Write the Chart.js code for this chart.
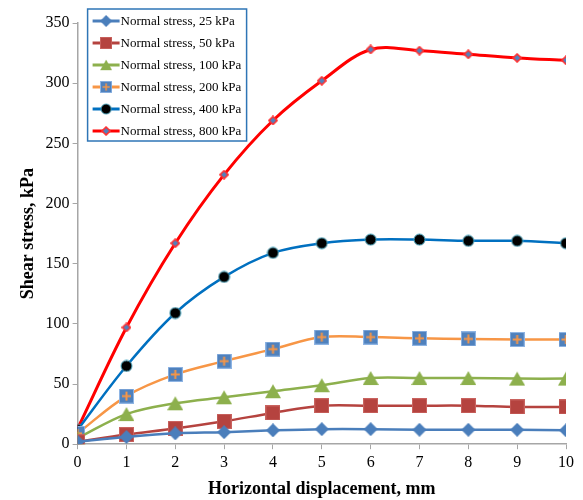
<!DOCTYPE html>
<html>
<head>
<meta charset="utf-8">
<script src="https://cdn.jsdelivr.net/npm/chart.js@4.4.0/dist/chart.umd.min.js"></script>
<style>
  body { margin: 0; background: #fff; }
  #wrap { width: 583px; height: 500px; }
</style>
</head>
<body>
<div id="wrap"><canvas id="shearChart"></canvas></div>
<script>
var displacement = [0, 1, 2, 3, 4, 5, 6, 7, 8, 9, 10];
var stress25  = [2, 6, 9, 10, 11.5, 12.5, 12.5, 12, 12, 12, 11.5];
var stress50  = [2, 8, 13, 19, 26, 32, 32, 32, 32, 31, 31];
var stress100 = [5, 25, 34, 39, 44, 49, 55, 55, 55, 54.5, 54.5];
var stress200 = [9, 40, 58, 69, 79, 89, 89, 88, 87.5, 87, 87];
var stress400 = [12, 65, 109, 139, 159, 167, 170, 170, 169, 169, 167];
var stress800 = [13, 97, 167, 224, 269, 302, 328, 327, 324, 321, 319];
var seriesNames = ["Normal stress, 25 kPa", "Normal stress, 50 kPa", "Normal stress, 100 kPa",
                   "Normal stress, 200 kPa", "Normal stress, 400 kPa", "Normal stress, 800 kPa"];

function makeMarker(size, draw){
    var c = document.createElement('canvas');
    c.width = size; c.height = size;
    draw(c.getContext('2d'), size);
    return c;
}

var diamondBlue = makeMarker(14, function(ctx, s){
    ctx.fillStyle = '#4A7EBB';
    ctx.beginPath();
    ctx.moveTo(s/2, 0); ctx.lineTo(s, s/2); ctx.lineTo(s/2, s); ctx.lineTo(0, s/2);
    ctx.closePath(); ctx.fill();
});
var squareRed = makeMarker(15, function(ctx, s){
    ctx.fillStyle = '#B5433F';
    ctx.fillRect(0, 0, s, s);
    ctx.strokeStyle = '#C9635F'; ctx.lineWidth = 1;
    ctx.strokeRect(0.5, 0.5, s-1, s-1);
});
var triangleGreen = makeMarker(16, function(ctx, s){
    ctx.fillStyle = '#8DB04D';
    ctx.beginPath();
    ctx.moveTo(s/2, 1); ctx.lineTo(s, s-1); ctx.lineTo(0, s-1);
    ctx.closePath(); ctx.fill();
});
var squareCross = makeMarker(15, function(ctx, s){
    ctx.fillStyle = '#4F81BD';
    ctx.fillRect(0, 0, s, s);
    ctx.strokeStyle = '#8EB4E3'; ctx.lineWidth = 1;
    ctx.strokeRect(0.5, 0.5, s-1, s-1);
    ctx.strokeStyle = '#F79646'; ctx.lineWidth = 2;
    ctx.beginPath();
    ctx.moveTo(s/2, 3); ctx.lineTo(s/2, s-3);
    ctx.moveTo(3, s/2); ctx.lineTo(s-3, s/2);
    ctx.stroke();
});
var circleBlack = makeMarker(13, function(ctx, s){
    ctx.fillStyle = '#000';
    ctx.strokeStyle = '#4BACC6'; ctx.lineWidth = 1;
    ctx.beginPath(); ctx.arc(s/2, s/2, s/2-1, 0, Math.PI*2); ctx.fill(); ctx.stroke();
});
var dotRed = makeMarker(10, function(ctx, s){
    ctx.fillStyle = '#4F81BD';
    ctx.strokeStyle = '#FF3030'; ctx.lineWidth = 1.6;
    ctx.beginPath();
    ctx.moveTo(s/2, 1); ctx.lineTo(s-1, s/2); ctx.lineTo(s/2, s-1); ctx.lineTo(1, s/2);
    ctx.closePath(); ctx.fill(); ctx.stroke();
});

function toPoints(values){
    return values.map(function(v, i){ return {x: displacement[i], y: v}; });
}

function makeDataset(label, values, color, marker){
    return {
        label: label,
        data: toPoints(values),
        borderColor: color,
        backgroundColor: color,
        borderWidth: 2.5,
        pointStyle: marker,
        tension: 0.35,
        fill: false
    };
}

var datasets = [
    makeDataset(seriesNames[0], stress25, '#4A7EBB', diamondBlue),
    makeDataset(seriesNames[1], stress50, '#B5433F', squareRed),
    makeDataset(seriesNames[2], stress100, '#8DB04D', triangleGreen),
    makeDataset(seriesNames[3], stress200, '#F79646', squareCross),
    makeDataset(seriesNames[4], stress400, '#0070C0', circleBlack),
    makeDataset(seriesNames[5], stress800, '#FF0000', dotRed)
];
datasets[5].borderWidth = 3;

// legend box drawn inside the plot, like the excel one
var boxLegend = {
    id: 'boxLegend',
    afterDraw: function(chart){
        var ctx = chart.ctx;
        var area = chart.chartArea;
        var x = area.left + 10, y = area.top - 14, w = 159, h = 132;
        ctx.save();
        ctx.fillStyle = '#fff';
        ctx.fillRect(x, y, w, h);
        ctx.strokeStyle = '#2E75B6';
        ctx.lineWidth = 1.5;
        ctx.strokeRect(x, y, w, h);
        ctx.font = '13px "Liberation Serif"';
        ctx.textBaseline = 'middle';
        chart.data.datasets.forEach(function(ds, i){
            var ry = y + 12 + i * 22;
            ctx.strokeStyle = ds.borderColor;
            ctx.lineWidth = 3;
            ctx.beginPath();
            ctx.moveTo(x + 5, ry); ctx.lineTo(x + 32, ry);
            ctx.stroke();
            var m = ds.pointStyle;
            var ms = Math.min(m.width, 12);
            ctx.drawImage(m, x + 18.5 - ms/2, ry - ms/2, ms, ms);
            ctx.fillStyle = '#000';
            ctx.fillText(ds.label, x + 33, ry + 1);
        });
        ctx.restore();
    }
};

new Chart(document.getElementById('shearChart').getContext('2d'), {
    type: 'line',
    data: { datasets: datasets },
    plugins: [boxLegend],
    options: {
        responsive: true,
        maintainAspectRatio: false,
        animation: false,
        layout: { padding: { top: 23, right: 17, left: 14, bottom: 0 } },
        plugins: { legend: { display: false }, tooltip: { enabled: false } },
        scales: {
            x: {
                type: 'linear',
                min: 0, max: 10,
                ticks: { stepSize: 1, color: '#000', font: { family: 'Liberation Serif', size: 16 }, padding: 4 },
                grid: { drawOnChartArea: false, color: '#A6A6A6', tickLength: 5 },
                border: { color: '#A6A6A6', width: 1.5 },
                title: { display: true, text: 'Horizontal displacement, mm', color: '#000',
                         font: { family: 'Liberation Serif', size: 18, weight: 'bold' }, padding: { top: 2, bottom: 0 } }
            },
            y: {
                type: 'linear',
                min: 0, max: 350,
                ticks: { stepSize: 50, color: '#000', font: { family: 'Liberation Serif', size: 16 }, padding: 3 },
                grid: { drawOnChartArea: false, color: '#A6A6A6', tickLength: 5 },
                border: { color: '#A6A6A6', width: 1.5 },
                title: { display: true, text: 'Shear stress, kPa', color: '#000',
                         font: { family: 'Liberation Serif', size: 18, weight: 'bold' }, padding: { bottom: 3 } }
            }
        }
    }
});
</script>
</body>
</html>
